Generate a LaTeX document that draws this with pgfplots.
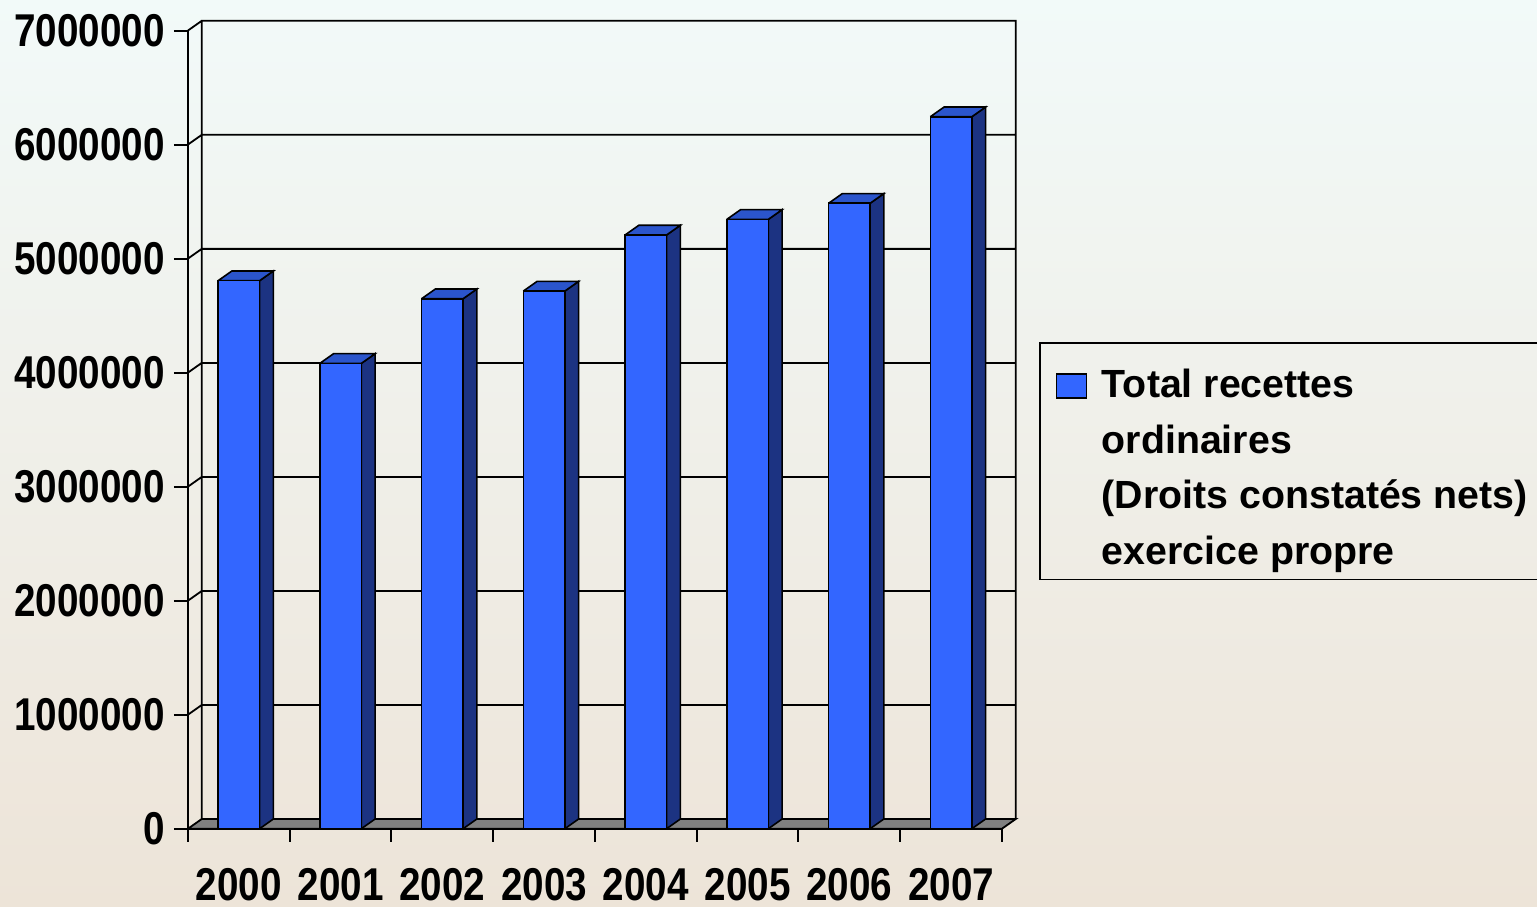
\documentclass[border=0pt]{standalone}
\usepackage{fontspec}
\setmainfont{Liberation Sans}
\newfontfamily\tickfamily[FakeStretch=0.84]{Liberation Sans}
\usepackage{pgfplots}
\pgfplotsset{compat=1.18}
\usepackage{pgfplotstable}

\definecolor{barblue}{HTML}{3366FF}
\definecolor{topblue}{HTML}{2B55CC}
\definecolor{sideblue}{HTML}{1C3382}
\definecolor{floorgray}{HTML}{808080}
\definecolor{bgtop}{HTML}{F2FAF9}
\definecolor{bgmid}{HTML}{F3F1E8}
\definecolor{bgbot}{HTML}{EDE4D8}

\pgfplotstableread{
x y
0 4806000
1 4081000
2 4648000
3 4715000
4 5207000
5 5344000
6 5485000
7 6244000
}\recettes

% 3D decoration of one bar (side and top faces), depth dx=0.135, dy=85000
\newcommand\cube[2]{%
  \pgfmathsetmacro\xa{#1-0.204}%
  \pgfmathsetmacro\xb{#1+0.204}%
  \pgfmathsetmacro\xc{#1+0.339}%
  \pgfmathsetmacro\xd{#1-0.069}%
  \begingroup\pgfkeys{/pgf/fpu=true,/pgf/fpu/output format=fixed}%
  \pgfmathparse{#2+85000}\xdef\yt{\pgfmathresult}\endgroup
  \addplot[fill=sideblue,draw=black,line width=0.8pt,forget plot]
    coordinates {(\xb,0) (\xc,85000) (\xc,\yt) (\xb,#2) (\xb,0)};
  \addplot[fill=topblue,draw=black,line width=0.8pt,forget plot]
    coordinates {(\xa,#2) (\xb,#2) (\xc,\yt) (\xd,\yt) (\xa,#2)};
}

\newcommand\tickfont{\tickfamily\bfseries\fontsize{23pt}{27pt}\selectfont}

\begin{document}
\begin{tikzpicture}
\shade[top color=bgtop, middle color=bgmid, bottom color=bgbot] (0,0) rectangle (768.5pt,453pt);
\useasboundingbox (0,0) rectangle (768.5pt,453pt);
\begin{axis}[
  at={(94pt,38.65pt)}, anchor=south west,
  scale only axis, width=407pt, height=399.1pt,
  xmin=-0.5, xmax=7.5, ymin=0, ymax=7000000,
  enlargelimits=false, clip=false,
  axis x line*=bottom, axis y line*=left,
  axis line style={black, line width=1pt},
  tick align=outside,
  major tick length=7pt, minor tick length=6.5pt,
  every tick/.style={black, line width=1pt},
  xtick={0,...,7},
  xticklabels={2000,2001,2002,2003,2004,2005,2006,2007},
  minor xtick={-0.5,0.5,...,7.5},
  major x tick style={draw=none},
  ytick={0,1000000,2000000,3000000,4000000,5000000,6000000,7000000},
  yticklabels={0,1000000,2000000,3000000,4000000,5000000,6000000,7000000},
  scaled y ticks=false,
  xticklabel style={font=\tickfont, inner sep=0pt, anchor=north, yshift=-12.5pt},
  yticklabel style={font=\tickfont, inner sep=0pt, anchor=east, xshift=-4.5pt},
  legend style={at={(1.0458,0.6101)}, anchor=north west,
    draw=black, line width=0.9pt, fill=none,
    inner xsep=7.85pt, inner ysep=3.4pt, column sep=7.2pt,
    nodes={anchor=base west, inner sep=0pt, text height=24.25pt, text depth=87.35pt}},
]
% back wall, left wall and floor
\draw[line width=0.9pt]
  (axis cs:-0.365,85000) -- (axis cs:-0.365,7085000) -- (axis cs:7.635,7085000) -- (axis cs:7.635,85000)
  (axis cs:-0.365,1085000) -- (axis cs:7.635,1085000)
  (axis cs:-0.365,2085000) -- (axis cs:7.635,2085000)
  (axis cs:-0.365,3085000) -- (axis cs:7.635,3085000)
  (axis cs:-0.365,4085000) -- (axis cs:7.635,4085000)
  (axis cs:-0.365,5085000) -- (axis cs:7.635,5085000)
  (axis cs:-0.365,6085000) -- (axis cs:7.635,6085000)
  (axis cs:-0.5,1000000) -- (axis cs:-0.365,1085000)
  (axis cs:-0.5,2000000) -- (axis cs:-0.365,2085000)
  (axis cs:-0.5,3000000) -- (axis cs:-0.365,3085000)
  (axis cs:-0.5,4000000) -- (axis cs:-0.365,4085000)
  (axis cs:-0.5,5000000) -- (axis cs:-0.365,5085000)
  (axis cs:-0.5,6000000) -- (axis cs:-0.365,6085000)
  (axis cs:-0.5,7000000) -- (axis cs:-0.365,7085000);
\filldraw[fill=floorgray, line width=0.9pt]
  (axis cs:-0.5,0) -- (axis cs:7.5,0) -- (axis cs:7.635,85000) -- (axis cs:-0.365,85000) -- cycle;
% bars
\cube{0}{4806000}
\cube{1}{4081000}
\cube{2}{4648000}
\cube{3}{4715000}
\cube{4}{5207000}
\cube{5}{5344000}
\cube{6}{5485000}
\cube{7}{6244000}
\addplot[ybar, bar width=20.75pt, bar shift=0pt, fill=barblue, draw=black, line width=0.8pt,
  legend image code/.code={\draw[fill=barblue,draw=black,line width=0.8pt] (0pt,0pt) rectangle (15pt,11.85pt);}]
  table[x=x,y=y]{\recettes};
\addlegendentry{\fontsize{19.65pt}{27.75pt}\selectfont\bfseries
  \vtop{\baselineskip=27.75pt
    \hbox{Total recettes}
    \hbox{ordinaires}
    \hbox{(Droits constatés nets)}
    \hbox{exercice propre}}}
\end{axis}
\end{tikzpicture}
\end{document}
